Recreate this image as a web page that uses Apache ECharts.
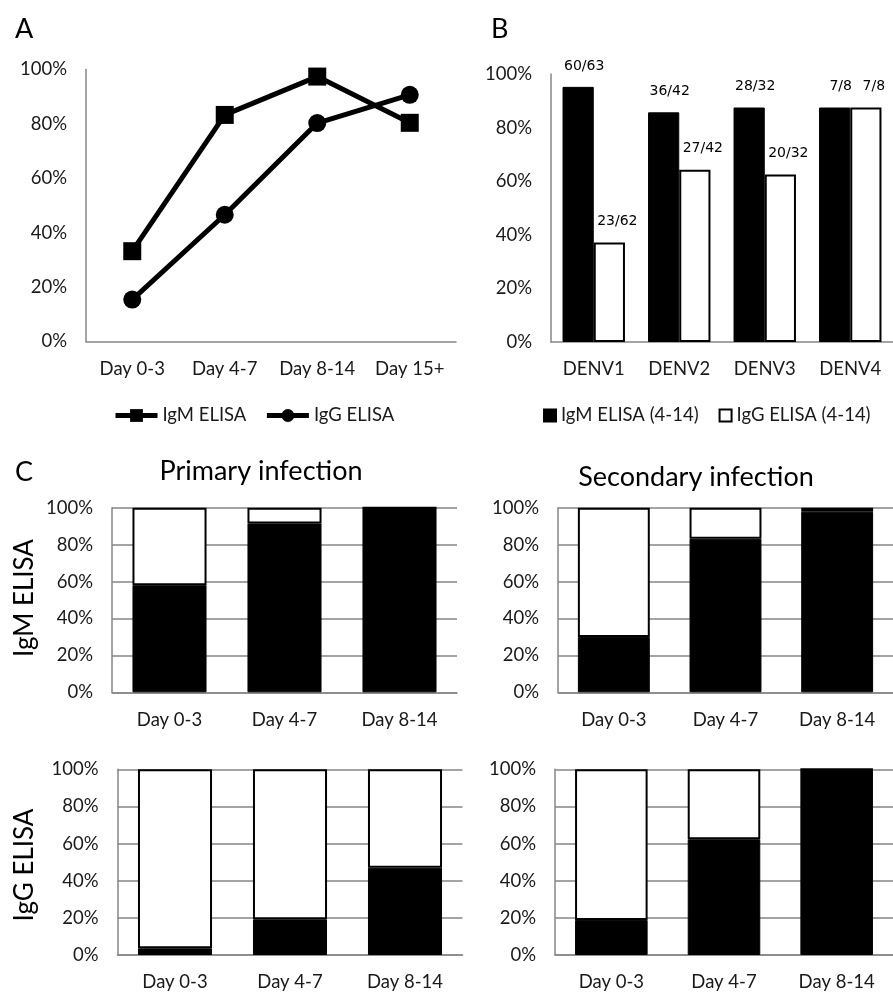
<!DOCTYPE html>
<html>
<head>
<meta charset="utf-8">
<script src="https://cdn.jsdelivr.net/npm/echarts@6/dist/echarts.min.js"></script>
<style>
html,body{margin:0;padding:0;background:#fff;}
#main{width:893px;height:992px;}
</style>
</head>
<body>
<div id="main"></div>
<script>
// ---- Data ----
const daysA = ['Day 0-3', 'Day 4-7', 'Day 8-14', 'Day 15+'];
const igmA = [33.2, 83.3, 97.4, 80.4];
const iggA = [15.4, 46.6, 80.3, 90.7];

const serotypes = ['DENV1', 'DENV2', 'DENV3', 'DENV4'];
const igmB = [95.2, 85.7, 87.5, 87.5];
const iggB = [37.1, 64.3, 62.5, 87.5];
const igmBLabels = ['60/63', '36/42', '28/32', '7/8'];
const iggBLabels = ['23/62', '27/42', '20/32', '7/8'];

const daysC = ['Day 0-3', 'Day 4-7', 'Day 8-14'];
const primIgmPos = [58, 91.5, 100];
const primIgmNeg = [42, 8.5, 0];
const secIgmPos = [30, 83.2, 97.8];
const secIgmNeg = [70, 16.8, 2.2];
const primIggPos = [3.6, 19.2, 47];
const primIggNeg = [96.4, 80.8, 53];
const secIggPos = [18.9, 62.3, 100];
const secIggNeg = [81.1, 37.7, 0];

// ---- Styles ----
const FONT = 'Lato';
const TXT = '#1a1a1a';
const AXC = '#868686';

function yAx(gi, split) {
  return {
    type: 'value', gridIndex: gi, min: 0, max: 100, interval: 20,
    axisLine: {show: true, lineStyle: {color: AXC, width: 1.5}},
    axisTick: {show: false},
    splitLine: {show: split, lineStyle: {color: AXC, width: 1.5}},
    axisLabel: {formatter: '{value}%', fontFamily: FONT, fontSize: 18.5, color: TXT, margin: 19}
  };
}
function xAx(gi, cats) {
  return {
    type: 'category', gridIndex: gi, data: cats,
    axisLine: {show: true, lineStyle: {color: AXC, width: 1.5}},
    axisTick: {show: false},
    axisLabel: {interval: 0, fontFamily: FONT, fontSize: 18.5, color: TXT, margin: 18}
  };
}
function stackPair(idx, pos, neg) {
  const common = {type: 'bar', xAxisIndex: idx, yAxisIndex: idx, stack: 's' + idx,
    barCategoryGap: '35.6%', animation: false};
  return [
    Object.assign({}, common, {name: 'pos' + idx, data: pos,
      itemStyle: {color: '#000', borderColor: '#000', borderWidth: 1}}),
    Object.assign({}, common, {name: 'neg' + idx, data: neg,
      itemStyle: {color: '#fff', borderColor: '#000', borderWidth: 2}})
  ];
}

const chart = echarts.init(document.getElementById('main'), null, {renderer: 'canvas'});

const option = {
  animation: false,
  backgroundColor: '#fff',
  title: [
    {text: 'A', left: 10, top: 11, textStyle: {fontFamily: FONT, fontSize: 27, fontWeight: 'normal', color: '#000'}},
    {text: 'B', left: 486, top: 11, textStyle: {fontFamily: FONT, fontSize: 27, fontWeight: 'normal', color: '#000'}},
    {text: 'C', left: 10, top: 454, textStyle: {fontFamily: FONT, fontSize: 27, fontWeight: 'normal', color: '#000'}},
    {text: 'Primary infection', left: 256, textAlign: 'center', top: 453, textStyle: {fontFamily: FONT, fontSize: 27, fontWeight: 'normal', color: '#000'}},
    {text: 'Secondary infection', left: 691, textAlign: 'center', top: 459, textStyle: {fontFamily: FONT, fontSize: 27, fontWeight: 'normal', color: '#000'}}
  ],
  graphic: [
    {type: 'text', x: 25, y: 598, rotation: Math.PI / 2,
      style: {text: 'IgM ELISA', fontFamily: FONT, fontSize: 26, fill: '#000', align: 'center', verticalAlign: 'middle'}},
    {type: 'text', x: 25, y: 865, rotation: Math.PI / 2,
      style: {text: 'IgG ELISA', fontFamily: FONT, fontSize: 26, fill: '#000', align: 'center', verticalAlign: 'middle'}}
  ],
  legend: [
    {data: ['IgM ELISA', 'IgG ELISA'], left: 108, top: 401, itemWidth: 42, itemHeight: 16, itemGap: 18,
      lineStyle: {width: 5}, textStyle: {fontFamily: FONT, fontSize: 18.5, color: TXT}},
    {data: ['IgM ELISA (4-14)', 'IgG ELISA (4-14)'], left: 538, top: 401, itemWidth: 12, itemHeight: 12, itemGap: 20,
      icon: 'rect', textStyle: {fontFamily: FONT, fontSize: 18.5, color: TXT}}
  ],
  grid: [
    {left: 86, top: 69.5, width: 370, height: 272},
    {left: 551, top: 74, width: 350, height: 268},
    {left: 112, top: 507.7, width: 345, height: 184.6},
    {left: 558, top: 507.7, width: 345, height: 184.6},
    {left: 117.5, top: 769.3, width: 345, height: 185.7},
    {left: 555, top: 769.3, width: 344, height: 185.7}
  ],
  xAxis: [
    xAx(0, daysA), xAx(1, serotypes),
    xAx(2, daysC), xAx(3, daysC), xAx(4, daysC), xAx(5, daysC)
  ],
  yAxis: [
    yAx(0, false), yAx(1, false),
    yAx(2, true), yAx(3, true), yAx(4, true), yAx(5, true)
  ],
  series: [
    {type: 'line', name: 'IgM ELISA', xAxisIndex: 0, yAxisIndex: 0, data: igmA,
      symbol: 'rect', symbolSize: 18, lineStyle: {color: '#000', width: 5},
      itemStyle: {color: '#000'}},
    {type: 'line', name: 'IgG ELISA', xAxisIndex: 0, yAxisIndex: 0, data: iggA,
      symbol: 'circle', symbolSize: 18, lineStyle: {color: '#000', width: 5},
      itemStyle: {color: '#000'}},
    {type: 'bar', name: 'IgM ELISA (4-14)', xAxisIndex: 1, yAxisIndex: 1,
      data: igmB, barGap: '0%', barCategoryGap: '27%',
      itemStyle: {color: '#000', borderColor: '#000', borderWidth: 1},
      label: {show: true, position: 'top', distance: 14, offset: [6, 0],
        formatter: p => igmBLabels[p.dataIndex],
        fontFamily: 'DejaVu Sans', fontSize: 14, color: '#000'}},
    {type: 'bar', name: 'IgG ELISA (4-14)', xAxisIndex: 1, yAxisIndex: 1,
      data: iggB, barGap: '0%', barCategoryGap: '27%',
      itemStyle: {color: '#fff', borderColor: '#000', borderWidth: 2},
      label: {show: true, position: 'top', distance: 14, offset: [8, 0],
        formatter: p => iggBLabels[p.dataIndex],
        fontFamily: 'DejaVu Sans', fontSize: 14, color: '#000'}},
    ...stackPair(2, primIgmPos, primIgmNeg),
    ...stackPair(3, secIgmPos, secIgmNeg),
    ...stackPair(4, primIggPos, primIggNeg),
    ...stackPair(5, secIggPos, secIggNeg)
  ]
};
chart.setOption(option);
</script>
</body>
</html>
